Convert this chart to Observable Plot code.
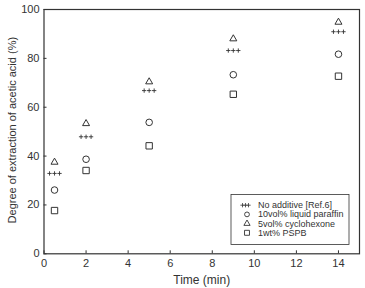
<!DOCTYPE html>
<html>
<head>
<meta charset="utf-8">
<script src="https://cdn.jsdelivr.net/npm/d3@7"></script>
<script src="https://cdn.jsdelivr.net/npm/@observablehq/plot@0.6"></script>
<style>
  body { margin: 0; background: #fff; }
  #chart svg { display: block; }
</style>
</head>
<body>
<div id="chart"></div>
<script>
// Extraction degree of acetic acid (%) over time (min)
const times = [0.5, 2, 5, 9, 14];
const noAdditive = [32.9, 47.9, 66.8, 83.2, 90.9];
const liquidParaffin = [26.1, 38.7, 53.8, 73.3, 81.7];
const cyclohexone = [37.5, 53.3, 70.4, 88.0, 94.8];
const pspb = [17.7, 34.1, 44.2, 65.3, 72.7];

const seriesNames = ["No additive [Ref.6]", "10vol% liquid paraffin", "5vol% cyclohexone", "1wt% PSPB"];
const xTicks = [0, 2, 4, 6, 8, 10, 12, 14];
const yTicks = [0, 20, 40, 60, 80, 100];
const xLabel = "Time (min)";
const yLabel = "Degree of extraction of acetic acid (%)";

const rows = (vals) => times.map((t, i) => ({t, v: vals[i]}));
const ink = "#333";
const font = "'Liberation Sans', Arial, sans-serif";

// "+++" marker: three small crosses side by side
const tripleCross = (data) => [-5, 0, 5].map(dx =>
  Plot.dot(data, {x: "t", y: "v", symbol: "plus", r: 1.5, stroke: ink, strokeWidth: 0.9, dx})
);

const plot = Plot.plot({
  width: 365,
  height: 288,
  marginLeft: 43.5,
  marginRight: 6,
  marginTop: 9,
  marginBottom: 34.7,
  style: {fontFamily: font, fontSize: "11px", color: ink, background: "#fff"},
  x: {domain: [0, 15]},
  y: {domain: [0, 100]},
  marks: [
    Plot.frame({stroke: ink, strokeWidth: 1.2}),
    Plot.axisX({ticks: xTicks, tickSize: -3, tickPadding: 8, label: null, fontSize: 11}),
    Plot.axisY({ticks: yTicks, tickSize: -3, tickPadding: 7.5, label: null, fontSize: 11}),
    Plot.text([xLabel], {text: d => d, frameAnchor: "bottom", dy: 30, fontSize: 12, fill: ink}),
    Plot.text([yLabel], {text: d => d, frameAnchor: "left", textAnchor: "middle", rotate: -90, dx: -31.5, dy: -1.5, fontSize: 11, fill: ink}),
    ...tripleCross(rows(noAdditive)),
    Plot.dot(rows(liquidParaffin), {x: "t", y: "v", symbol: "circle", r: 3.3, stroke: ink, strokeWidth: 1}),
    Plot.dot(rows(cyclohexone), {x: "t", y: "v", symbol: "triangle", r: 2.6, stroke: ink, strokeWidth: 1}),
    Plot.dot(rows(pspb), {x: "t", y: "v", symbol: "square", r: 3.6, stroke: ink, strokeWidth: 1})
  ]
});

document.getElementById("chart").appendChild(plot);

// Legend box in the lower-right corner of the frame
const [x0, x1] = plot.scale("x").range;
const [y0] = plot.scale("y").range; // bottom of frame
const svg = d3.select(plot);
const boxW = 118, boxH = 50;
const bx = x1 - 10 - boxW, by = y0 - 8.8 - boxH;
const rowGap = 9.2;
const lg = svg.append("g")
  .attr("font-family", font).attr("font-size", 8.5).attr("fill", ink).attr("text-anchor", "start");
lg.append("rect").attr("x", bx).attr("y", by).attr("width", boxW).attr("height", boxH)
  .attr("fill", "#fff").attr("stroke", ink).attr("stroke-width", 0.8);

const symbolKinds = ["plus3", d3.symbolCircle, d3.symbolTriangle, d3.symbolSquare];
const symbolR = [1.0, 2.4, 2.3, 2.8];
seriesNames.forEach((name, i) => {
  const cy = by + 10.7 + i * rowGap;
  const cx = bx + 16;
  if (symbolKinds[i] === "plus3") {
    [-3, 0, 3].forEach(dx => {
      lg.append("path")
        .attr("d", d3.symbol(d3.symbolPlus, Math.PI * symbolR[i] ** 2 * 2.2)())
        .attr("transform", `translate(${cx - 1.5 + dx},${cy})`)
        .attr("fill", "none").attr("stroke", ink).attr("stroke-width", 0.8);
    });
  } else {
    lg.append("path")
      .attr("d", d3.symbol(symbolKinds[i], Math.PI * symbolR[i] ** 2)())
      .attr("transform", `translate(${cx},${cy})`)
      .attr("fill", "none").attr("stroke", ink).attr("stroke-width", 0.9);
  }
  // slightly widened glyphs so the entries keep their width at a compact line height
  lg.append("text").attr("transform", `translate(${bx + 27},${cy}) scale(1.06,1)`)
    .attr("dy", "0.35em").text(name);
});
</script>
</body>
</html>
